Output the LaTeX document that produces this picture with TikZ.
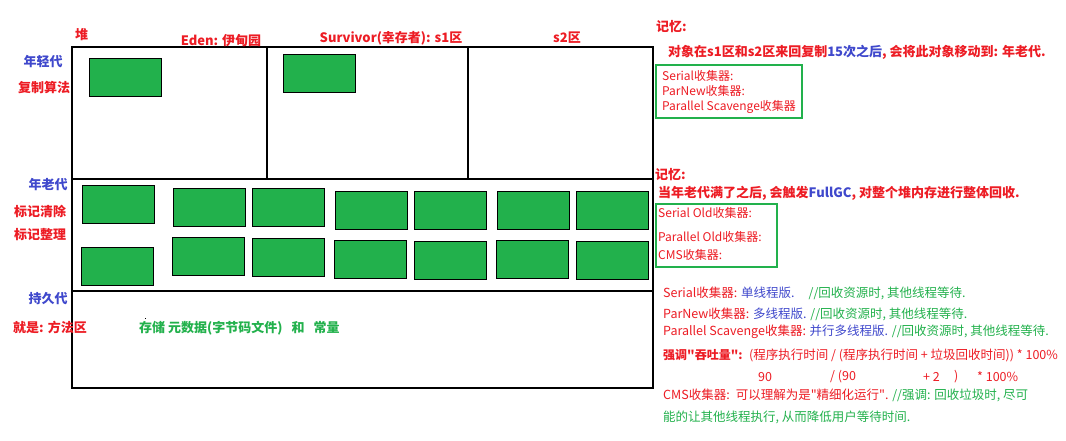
\documentclass[tikz,border=0pt]{standalone}
\usepackage{fontspec}
\setmainfont{Noto Sans CJK SC}
\newfontfamily\cjkplain{Noto Sans CJK SC}
\newcommand{\sq}{{\cjkplain\char34}}
\definecolor{pred}{RGB}{237,28,36}
\definecolor{pblue}{RGB}{63,72,204}
\definecolor{pgreen}{RGB}{34,177,76}
\tikzset{
  frame/.style={draw=black, line width=1.2pt},
  obj/.style={draw=black, fill=pgreen, line width=1.2pt, minimum width=72pt, minimum height=38pt, inner sep=0, anchor=north west},
  callout/.style={draw=pgreen, line width=2.5pt},
  big/.style={font=\fontsize{13}{15}\selectfont\bfseries, inner sep=0},
  txt/.style={font=\fontsize{12}{14}\selectfont, inner sep=0, anchor=west},
  note/.style={font=\fontsize{12.5}{14}\selectfont, inner sep=0, anchor=west},
}
\begin{document}
\begin{tikzpicture}[x=1pt,y=-1pt]
\useasboundingbox (0,0) rectangle (1066,441);
\fill[white] (0,0) rectangle (1066,441);

% heap frame
\draw[frame] (72,47) rectangle (653,388);
\draw[frame] (72,179) -- (653,179);
\draw[frame] (72,291) -- (653,291);
\draw[frame] (267,47) -- (267,179);
\draw[frame] (468,47) -- (468,179);

% young objects
\node[obj] (y1) at (89,58) {};
\node[obj] (y2) at (283,54) {};

% old objects row 1
\node[obj] (o1) at (82,185) {};
\node[obj] (o2) at (173,188) {};
\node[obj] (o3) at (252,188) {};
\node[obj] (o4) at (335,191) {};
\node[obj] (o5) at (414,191) {};
\node[obj] (o6) at (497,191) {};
\node[obj] (o7) at (576,191) {};
% row 2
\node[obj] (p1) at (81,247) {};
\node[obj] (p2) at (172,237) {};
\node[obj] (p3) at (252,238) {};
\node[obj] (p4) at (334,240) {};
\node[obj] (p5) at (414,241) {};
\node[obj] (p6) at (496,240) {};
\node[obj] (p7) at (576,241) {};

% top labels
\node[big, text=pred, anchor=west] (heap) at (75,35) {堆};
\node[big, text=pred] (eden) at (221,41) {Eden: 伊甸园};
\node[big, text=pred] (s1) at (391,38) {Survivor(幸存者): s1区};
\node[big, text=pred] (s2) at (567,38) {s2区};

% left labels
\node[big, text=pblue] (young) at (43,62) {年轻代};
\node[big, text=pred] (copy) at (44,87) {复制算法};
\node[big, text=pblue] (old) at (48,185) {年老代};
\node[big, text=pred] (mark1) at (40,211) {标记清除};
\node[big, text=pred] (mark2) at (40,235) {标记整理};
\node[big, text=pblue] (perm) at (48,299) {持久代};
\node[big, text=pred] (method) at (50,327) {就是: 方法区};
\node[big, text=pgreen, anchor=west] (meta) at (139,328) {存储 元数据(字节码文件)\hspace{6pt} 和\hspace{6pt} 常量};
\fill[black] (144.5,317.5) rectangle (145.5,318.5);

% right: memory 1
\node[big, text=pred, anchor=west] (mem1) at (656,27) {记忆:};
\node[big, text=pred, anchor=west] (mem1t) at (668,52) {对象在s1区和s2区来回复制{\color{pblue}15次之后}, 会将此对象移动到: 年老代.};
\draw[callout] (656,65) rectangle (802,118);
\node[txt, text=pred] (c1) at (662,76) {Serial收集器:};
\node[txt, text=pred] (c2) at (662,91) {ParNew收集器:};
\node[txt, text=pred] (c3) at (662,107) {Parallel Scavenge收集器};

% right: memory 2
\node[big, text=pred, anchor=west] (mem2) at (655,175) {记忆:};
\node[big, text=pred, anchor=west] (mem2t) at (658,193) {当年老代满了之后, 会触发{\color{pblue}FullGC}, 对整个堆内存进行整体回收.};
\draw[callout] (656,204) rectangle (777,267);
\node[txt, text=pred] (d1) at (658,213) {Serial Old收集器:};
\node[txt, text=pred] (d2) at (658,237) {Parallel Old收集器:};
\node[txt, text=pred] (d3) at (658,255) {CMS收集器:};

% notes
\node[note] (n1) at (663,293) {{\color{pred}Serial收集器:} {\color{pblue}单线程版.}\hspace{14pt}{\color{pgreen}//回收资源时, 其他线程等待.}};
\node[note] (n2) at (663,314) {{\color{pred}ParNew收集器:} {\color{pblue}多线程版.} {\color{pgreen}//回收资源时, 其他线程等待.}};
\node[note] (n3) at (663,332) {{\color{pred}Parallel Scavenge收集器:} {\color{pblue}并行多线程版.} {\color{pgreen}//回收资源时, 其他线程等待.}};
\node[note, text=pred, font=\fontsize{12}{14}\selectfont\bfseries] (n4) at (663,355) {强调\sq 吞吐量\sq:};
\node[note, text=pred] (n4b) at (749,355) {(程序执行时间 / (程序执行时间 + 垃圾回收时间)) * 100\%};
\node[note, text=pred] (v1) at (758,377) {90};
\node[note, text=pred] (v2) at (830,377) {/ (90};
\node[note, text=pred] (v3) at (923,377) {+ 2};
\node[note, text=pred] (v4) at (954,377) {)};
\node[note, text=pred] (v5) at (977,377) {* 100\%};
\node[note] (n5) at (663,395) {{\color{pred}CMS收集器:\hspace{6pt}可以理解为是\sq 精细化运行\sq.} {\color{pgreen}//强调: 回收垃圾时, 尽可}};
\node[note, text=pgreen] (n6) at (663,417) {能的让其他线程执行, 从而降低用户等待时间.};
\end{tikzpicture}
\end{document}
